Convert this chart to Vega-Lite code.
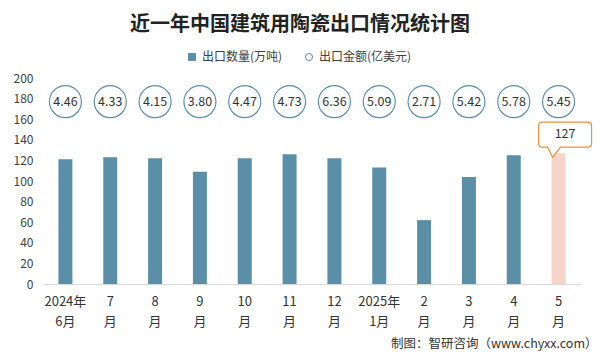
{
  "$schema": "https://vega.github.io/schema/vega-lite/v6.json",
  "width": 538,
  "height": 206,
  "autosize": {"type": "none"},
  "padding": {"left": 43, "top": 78, "right": 21, "bottom": 72},
  "background": "white",
  "title": {
    "text": "近一年中国建筑用陶瓷出口情况统计图",
    "font": "Noto Sans CJK SC",
    "fontSize": 20,
    "fontWeight": "bold",
    "color": "#222222",
    "anchor": "middle",
    "dx": -12,
    "offset": 16
  },
  "config": {
    "view": {"stroke": null},
    "font": "Noto Sans CJK SC",
    "axisY": {
      "labelOverlap": false,
      "tickCount": 10,
      "grid": false,
      "ticks": false,
      "domain": false,
      "labelFontSize": 12,
      "labelColor": "#404040",
      "labelPadding": 10
    }
  },
  "data": {
    "values": [
      {"month": "2024年6月", "qty": 121, "amt": 4.46},
      {"month": "7月", "qty": 123, "amt": 4.33},
      {"month": "8月", "qty": 122, "amt": 4.15},
      {"month": "9月", "qty": 109, "amt": 3.80},
      {"month": "10月", "qty": 122, "amt": 4.47},
      {"month": "11月", "qty": 126, "amt": 4.73},
      {"month": "12月", "qty": 122, "amt": 6.36},
      {"month": "2025年1月", "qty": 113, "amt": 5.09},
      {"month": "2月", "qty": 62, "amt": 2.71},
      {"month": "3月", "qty": 104, "amt": 5.42},
      {"month": "4月", "qty": 125, "amt": 5.78},
      {"month": "5月", "qty": 127, "amt": 5.45}
    ]
  },
  "encoding": {
    "x": {
      "field": "month",
      "type": "nominal",
      "sort": null,
      "scale": {"paddingInner": 0.688, "paddingOuter": 0.344},
      "axis": {
        "title": "制图：智研咨询（www.chyxx.com）",
        "titleFont": "Noto Sans CJK SC",
        "titleFontSize": 12.5,
        "titleFontWeight": "normal",
        "titleColor": "#333333",
        "titleAnchor": "end",
        "titleAlign": "right",
        "titleBaseline": "middle",
        "titleX": 554,
        "titleY": 59,
        "labelAngle": 0,
        "labelExpr": "indexof(datum.label,'年') > 0 ? [slice(datum.label,0,indexof(datum.label,'年')+1), slice(datum.label,indexof(datum.label,'年')+1)] : [replace(datum.label,'月',''), '月']",
        "labelFontSize": 13,
        "labelColor": "#333333",
        "labelLineHeight": 20,
        "labelPadding": 11,
        "ticks": false,
        "domainColor": "#d9d9d9",
        "domainWidth": 1
      }
    }
  },
  "layer": [
    {
      "mark": {"type": "bar"},
      "encoding": {
        "y": {
          "field": "qty",
          "type": "quantitative",
          "scale": {"domain": [0, 200], "nice": false},
          "axis": {"title": null}
        },
        "color": {
          "condition": {"test": "datum.month === '5月'", "value": "#f8d3ca"},
          "datum": "出口数量(万吨)",
          "scale": {
            "domain": ["出口数量(万吨)", "出口金额(亿美元)"],
            "range": ["#5b8fa8", "#5b8fa8"]
          },
          "legend": {
            "orient": "none",
            "legendX": 143,
            "legendY": -27,
            "direction": "horizontal",
            "title": null,
            "labelFontSize": 12,
            "labelColor": "#404040",
            "symbolSize": 50,
            "columnPadding": 20,
            "labelOffset": 4,
            "encode": {
              "symbols": {
                "enter": {
                  "fillOpacity": {"signal": "datum.value === '出口数量(万吨)' ? 1 : 0"}
                },
                "update": {
                  "shape": {"signal": "datum.value === '出口数量(万吨)' ? 'square' : 'circle'"},
                  "fill": {"signal": "datum.value === '出口数量(万吨)' ? '#5b8fa8' : 'white'"},
                  "fillOpacity": {"signal": "datum.value === '出口数量(万吨)' ? 1 : 0"},
                  "stroke": {"value": "#7fa6ba"},
                  "strokeWidth": {"value": 1},
                  "opacity": {"value": 1}
                }
              }
            }
          }
        }
      }
    },
    {
      "mark": {"type": "point", "shape": "circle", "filled": false, "size": 1024, "strokeWidth": 1.2, "opacity": 1},
      "encoding": {
        "y": {"datum": 177},
        "color": {"datum": "出口金额(亿美元)"}
      }
    },
    {
      "mark": {"type": "text", "fontSize": 12.5, "color": "#333333"},
      "encoding": {
        "y": {"datum": 177},
        "text": {"field": "amt", "type": "quantitative", "format": ".2f"}
      }
    },
    {
      "transform": [{"filter": "datum.month === '5月'"}],
      "mark": {
        "type": "point",
        "shape": "M -0.533 -1.033 L 0.967 -1.033 Q 1.1 -1.033 1.1 -0.9 L 1.1 -0.333 Q 1.1 -0.2 0.967 -0.2 L 0.067 -0.2 L -0.2 0.133 L -0.367 -0.2 L -0.533 -0.2 Q -0.667 -0.2 -0.667 -0.333 L -0.667 -0.9 Q -0.667 -1.033 -0.533 -1.033 Z",
        "size": 3600,
        "filled": true,
        "fill": "white",
        "stroke": "#e8913a",
        "strokeWidth": 1.2,
        "opacity": 1
      },
      "encoding": {
        "y": {"field": "qty", "type": "quantitative"}
      }
    },
    {
      "transform": [{"filter": "datum.month === '5月'"}],
      "mark": {"type": "text", "fontSize": 12.5, "color": "#333333", "dx": 6.5, "dy": -19},
      "encoding": {
        "y": {"field": "qty", "type": "quantitative"},
        "text": {"field": "qty", "type": "quantitative"}
      }
    }
  ]
}
